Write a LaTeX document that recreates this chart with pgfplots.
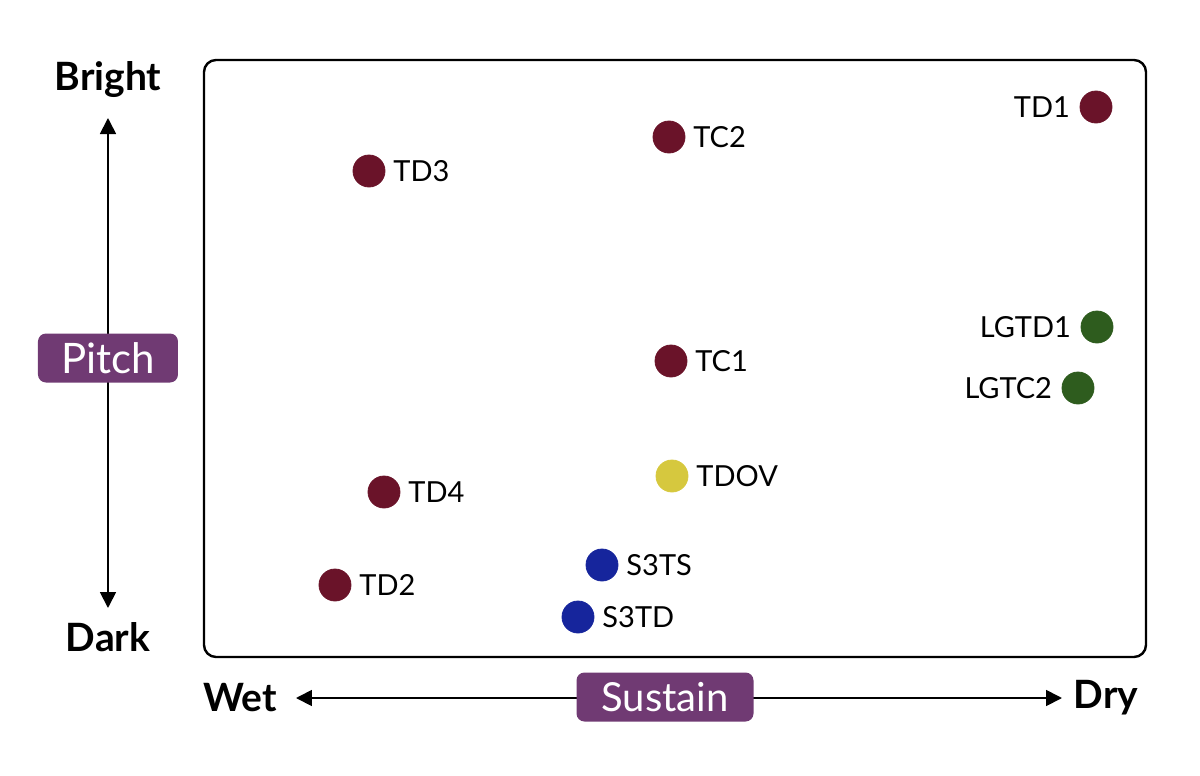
\documentclass[border=0pt]{standalone}
\usepackage{fontspec}
\setmainfont{Lato}
\usepackage{pgfplots}
\pgfplotsset{compat=1.18}
\usetikzlibrary{arrows.meta}
\definecolor{maroon}{HTML}{6A1329}
\definecolor{dgreen}{HTML}{2E5C1E}
\definecolor{dblue}{HTML}{16259C}
\definecolor{yell}{HTML}{D6C83E}
\definecolor{purp}{HTML}{703A73}
\begin{document}
\begin{tikzpicture}
\begin{axis}[
  scale only axis, width=471pt, height=298.5pt,
  xmin=204, xmax=1146, ymin=60, ymax=657, y dir=reverse,
  axis lines=none, clip=false,
  point meta=explicit symbolic,
  nodes near coords,
  every node near coord/.append style={font=\fontsize{14.5}{17}\selectfont, text=black},
  mark size=8pt,
]
% right-labelled points
\addplot[only marks, mark=*, mark options={draw=maroon, fill=maroon},
  every node near coord/.append style={anchor=west, xshift=8.7pt}] table[meta=l] {
x y l
669 137 TC2
369 171 TD3
671 361 TC1
384 492 TD4
335 585 TD2
};
\addplot[only marks, mark=*, mark options={draw=yell, fill=yell},
  every node near coord/.append style={anchor=west, xshift=8.7pt}] table[meta=l] {
x y l
672 476 TDOV
};
\addplot[only marks, mark=*, mark options={draw=dblue, fill=dblue},
  every node near coord/.append style={anchor=west, xshift=8.7pt}] table[meta=l] {
x y l
602 565 S3TS
578 617 S3TD
};
\addplot[only marks, mark=*, mark options={draw=maroon, fill=maroon},
  every node near coord/.append style={anchor=east, xshift=-9.5pt}] table[meta=l] {
x y l
1096 107 TD1
};
\addplot[only marks, mark=*, mark options={draw=dgreen, fill=dgreen},
  every node near coord/.append style={anchor=east, xshift=-9.5pt}] table[meta=l] {
x y l
1097 327 LGTD1
1078 388 LGTC2
};
\draw[line width=1.2pt, rounded corners=6pt] (rel axis cs:0,0) rectangle (rel axis cs:1,1);
% bounding box
\path (axis cs:0,0) rectangle (axis cs:1200,776);
% vertical arrow
\draw[line width=0.9pt, {Triangle[length=8pt,width=8pt]}-{Triangle[length=8pt,width=8pt]}] (axis cs:108,118) -- (axis cs:108,608);
\node[font=\fontsize{19.5}{22}\selectfont\bfseries] at (axis cs:108,80) {Bright};
\node[font=\fontsize{19.5}{22}\selectfont\bfseries] at (axis cs:108,637) {Dark};
\node[fill=purp, text=white, rounded corners=4pt, minimum width=70pt, minimum height=24.5pt, inner sep=2pt, font=\fontsize{21}{24}\selectfont] at (axis cs:108,358) {Pitch};
% horizontal arrow
\draw[line width=0.9pt, {Triangle[length=8pt,width=8pt]}-{Triangle[length=8pt,width=8pt]}] (axis cs:296,698) -- (axis cs:1062,698);
\node[font=\fontsize{19.5}{22}\selectfont\bfseries] at (axis cs:240,698) {Wet};
\node[font=\fontsize{19.5}{22}\selectfont\bfseries] at (axis cs:1106,698) {Dry};
\node[fill=purp, text=white, rounded corners=4pt, minimum width=88.5pt, minimum height=24.5pt, inner sep=2pt, font=\fontsize{20}{24}\selectfont] at (axis cs:665,697) {Sustain};
\end{axis}
\end{tikzpicture}
\end{document}
